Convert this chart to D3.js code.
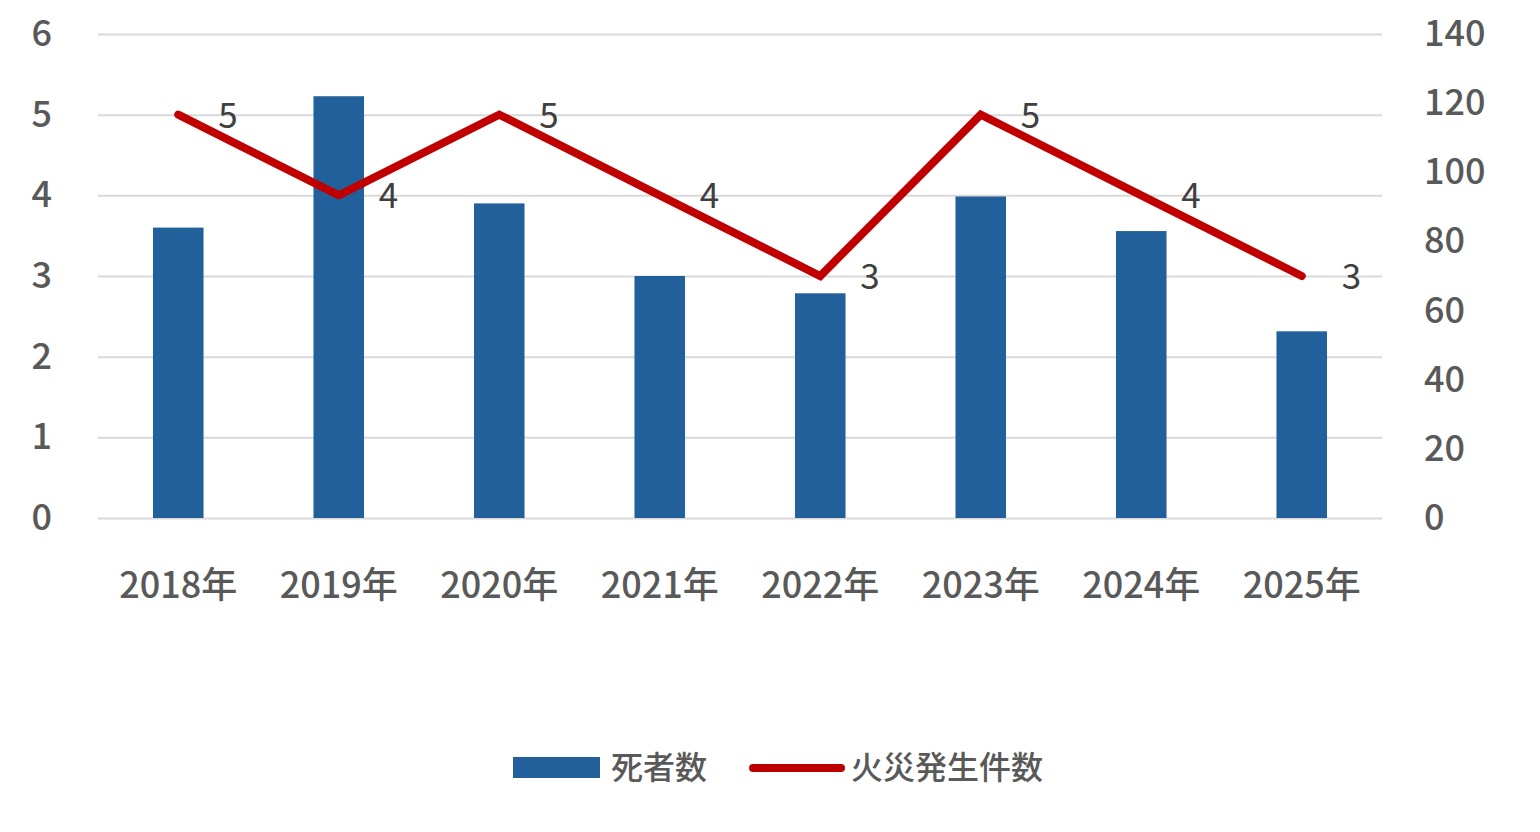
<!DOCTYPE html>
<html>
<head>
<meta charset="utf-8">
<script src="https://cdn.jsdelivr.net/npm/d3@7"></script>
<style>
  body { margin: 0; background: #fff; }
  svg text { font-family: "Noto Sans CJK JP", "Noto Sans", sans-serif; }
</style>
</head>
<body>
<svg id="chart" width="1540" height="832"></svg>
<script>
// data
var years = ["2018年", "2019年", "2020年", "2021年", "2022年", "2023年", "2024年", "2025年"];
var barValues = [84, 122, 91, 70, 65, 93, 83, 54];   // 死者数 (right axis)
var lineValues = [5, 4, 5, 4, 3, 5, 4, 3];           // 火災発生件数 (left axis)
var leftTicks = [0, 1, 2, 3, 4, 5, 6];
var rightTicks = [0, 20, 40, 60, 80, 100, 120, 140];
var legendNames = ["死者数", "火災発生件数"];

var svg = d3.select("#chart");

var plotL = 98, plotR = 1382, plotT = 34, plotB = 518;

var x = d3.scaleBand().domain(years).range([plotL, plotR]).padding(0);
var yL = d3.scaleLinear().domain([0, 6]).range([plotB, plotT]);
var yR = d3.scaleLinear().domain([0, 140]).range([plotB, plotT]);

// gridlines
svg.append("g")
   .attr("transform", "translate(" + plotL + ",0)")
   .call(d3.axisLeft(yL).tickValues(leftTicks).tickSize(-(plotR - plotL)).tickFormat(""))
   .call(function(g) { g.select(".domain").remove(); })
   .selectAll("line")
   .attr("stroke", "#d9d9d9")
   .attr("stroke-width", 2);

// left axis labels
var la = svg.append("g")
   .attr("transform", "translate(" + plotL + ",0)")
   .call(d3.axisLeft(yL).tickValues(leftTicks).tickFormat(d3.format("d")).tickSize(0).tickPadding(46));
la.select(".domain").remove();
la.selectAll("text")
  .attr("font-size", 36)
  .attr("font-weight", 500)
  .attr("fill", "#595959");

// right axis labels
var ra = svg.append("g")
   .attr("transform", "translate(" + plotR + ",0)")
   .call(d3.axisRight(yR).tickValues(rightTicks).tickFormat(d3.format("d")).tickSize(0).tickPadding(42));
ra.select(".domain").remove();
ra.selectAll("text")
  .attr("font-size", 36)
  .attr("font-weight", 500)
  .attr("fill", "#595959");

// x axis labels
var xa = svg.append("g")
   .attr("transform", "translate(0," + plotB + ")")
   .call(d3.axisBottom(x).tickSize(0));
xa.select(".domain").remove();
xa.selectAll("text")
  .attr("dy", null)
  .attr("y", 80)
  .attr("font-size", 36)
  .attr("font-weight", 500)
  .attr("fill", "#595959");

// bars
var barW = x.bandwidth() * 0.315;
svg.append("g")
   .selectAll("rect")
   .data(barValues)
   .enter().append("rect")
   .attr("x", function(d, i) { return x(years[i]) + x.bandwidth() / 2 - barW / 2; })
   .attr("y", function(d) { return yR(d); })
   .attr("width", barW)
   .attr("height", function(d) { return plotB - yR(d); })
   .attr("fill", "#22609b");

// line
var line = d3.line()
   .x(function(d, i) { return x(years[i]) + x.bandwidth() / 2; })
   .y(function(d) { return yL(d); });

svg.append("path")
   .datum(lineValues)
   .attr("d", line)
   .attr("fill", "none")
   .attr("stroke", "#c00000")
   .attr("stroke-width", 8)
   .attr("stroke-linejoin", "miter")
   .attr("stroke-linecap", "round");

// data labels
svg.append("g")
   .selectAll("text")
   .data(lineValues)
   .enter().append("text")
   .attr("x", function(d, i) { return x(years[i]) + x.bandwidth() / 2 + 40; })
   .attr("y", function(d) { return yL(d) + 13; })
   .attr("font-size", 35)
   .attr("fill", "#404040")
   .text(function(d) { return d; });

// legend
var lg = svg.append("g");
lg.append("rect")
  .attr("x", 513).attr("y", 757)
  .attr("width", 87).attr("height", 21)
  .attr("fill", "#22609b");
lg.append("text")
  .attr("x", 611).attr("y", 779)
  .attr("font-size", 32).attr("font-weight", 500)
  .attr("fill", "#595959")
  .text(legendNames[0]);
lg.append("line")
  .attr("x1", 753).attr("x2", 841)
  .attr("y1", 768).attr("y2", 768)
  .attr("stroke", "#c00000")
  .attr("stroke-width", 8)
  .attr("stroke-linecap", "round");
lg.append("text")
  .attr("x", 851).attr("y", 779)
  .attr("font-size", 32).attr("font-weight", 500)
  .attr("fill", "#595959")
  .text(legendNames[1]);
</script>
</body>
</html>
